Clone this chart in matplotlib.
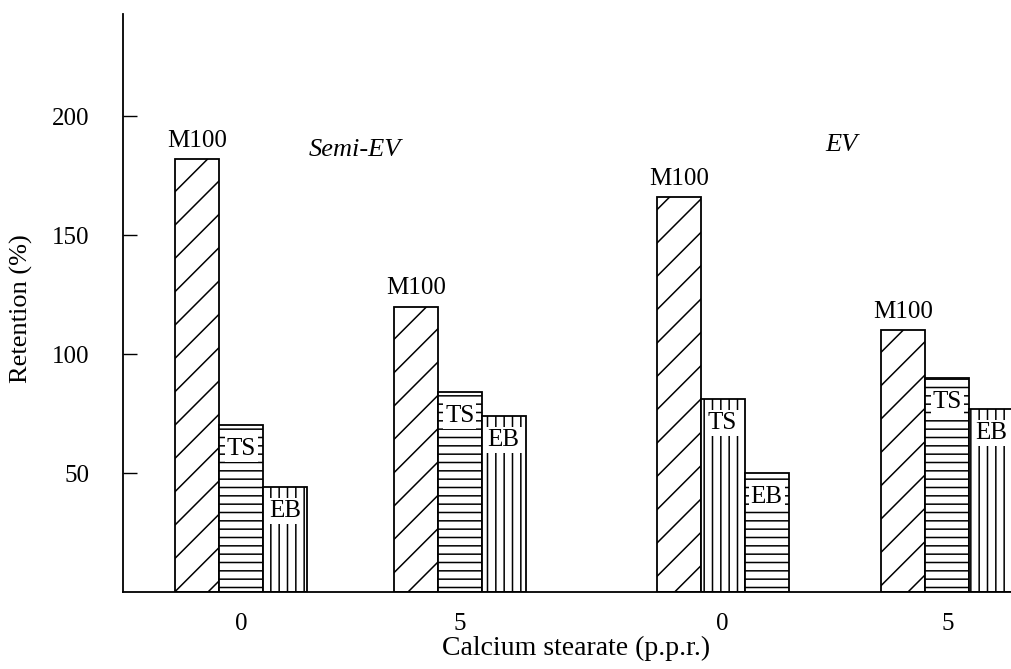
import matplotlib
matplotlib.use("Agg")
import matplotlib.pyplot as plt

# values (Retention %)
groups = ["Semi-EV", "EV"]
tick_labels = ["0", "5", "0", "5"]
m100 = [182, 120, 166, 110]
ts = [70, 84, 81, 90]
eb = [44, 74, 50, 77]

# hatches: the EV / 0 pair swaps its patterns in the original
ts_hatch = ["--", "--", "||", "--"]
eb_hatch = ["||", "||", "--", "||"]

plt.rcParams["font.family"] = ["Liberation Serif", "DejaVu Serif"]
plt.rcParams["hatch.linewidth"] = 1.1

fig = plt.figure(figsize=(10.11, 6.69), dpi=100)
ax = fig.add_axes([123 / 1011, 77 / 669, 888 / 1011, 578 / 669])

# centres of the TS bar in each group, bar width = 1
pos = [2.69, 7.66, 13.64, 18.75]
w = 1.0

for i, x in enumerate(pos):
    ax.bar(x - w, m100[i], w, color="white", edgecolor="black",
           hatch="/", linewidth=1.3)
    ax.bar(x, ts[i], w, color="white", edgecolor="black",
           hatch=ts_hatch[i], linewidth=1.3)
    ax.bar(x + w, eb[i], w, color="white", edgecolor="black",
           hatch=eb_hatch[i], linewidth=1.3)

    ax.text(x - w, m100[i] + 3, "M100", ha="center", va="bottom", fontsize=18)
    box = dict(facecolor="white", edgecolor="none", pad=1.5)
    ax.text(x, ts[i] - 10, "TS", ha="center", va="center", fontsize=18, bbox=box)
    ax.text(x + w, eb[i] - 10, "EB", ha="center", va="center", fontsize=18, bbox=box)

# group captions
ax.text(5.27, 186, groups[0], style="italic", ha="center", va="center", fontsize=19)
ax.text(16.35, 188, groups[1], style="italic", ha="center", va="center", fontsize=19)

ax.set_xlim(0, 20.2)
ax.set_ylim(0, 243)
ax.set_xticks(pos)
ax.set_xticklabels(tick_labels)
ax.set_yticks([50, 100, 150, 200])
ax.tick_params(axis="y", direction="in", length=10, width=1, pad=24, labelsize=18)
ax.tick_params(axis="x", length=0, pad=15, labelsize=18)

for side in ["top", "right"]:
    ax.spines[side].set_visible(False)
ax.spines["left"].set_linewidth(1.3)
ax.spines["bottom"].set_linewidth(1.3)

ax.set_xlabel("Calcium stearate (p.p.r.)", fontsize=20, labelpad=1)
ax.xaxis.set_label_coords(0.51, -0.075)
ax.set_ylabel("Retention (%)", fontsize=19)
ax.yaxis.set_label_coords(-0.101, 0.49)

fig.savefig("out.png", dpi=100)
